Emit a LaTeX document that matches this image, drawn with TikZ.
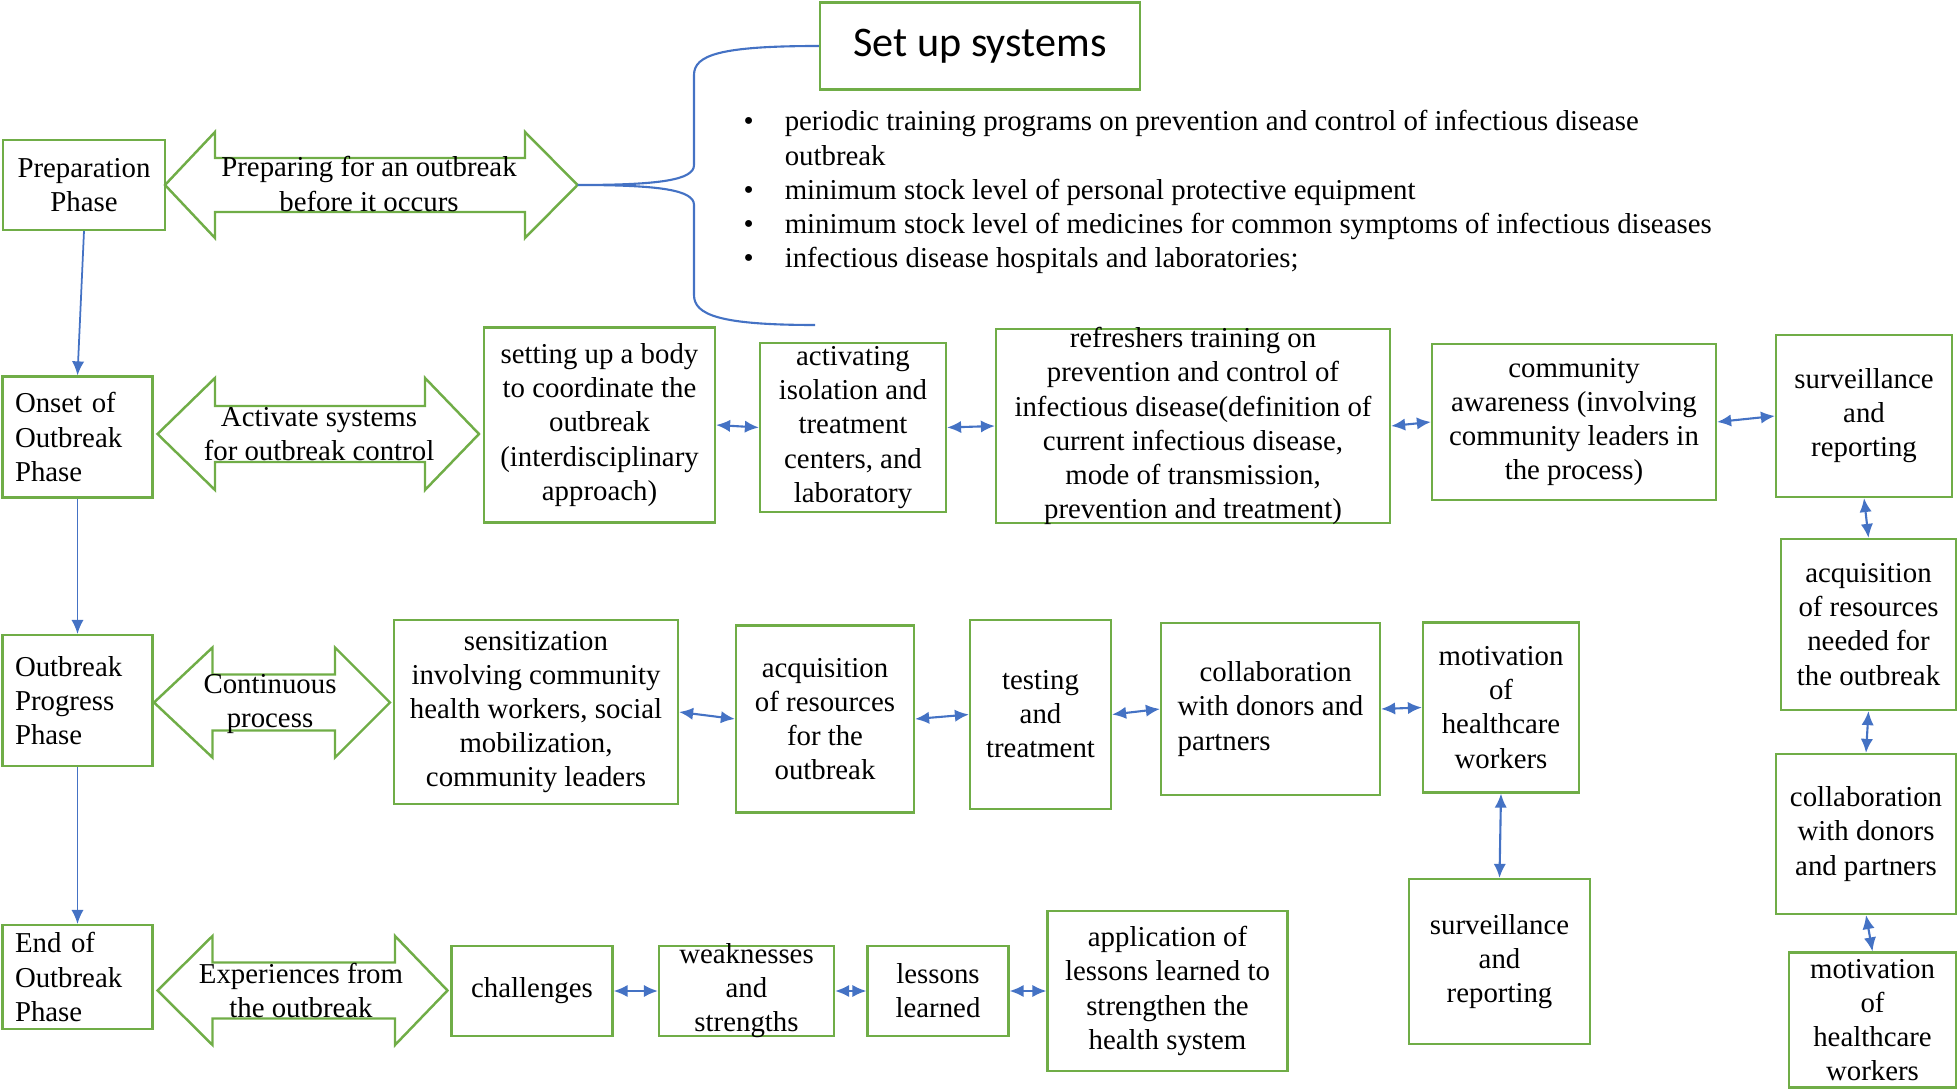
\documentclass[tikz,border=0pt]{standalone}
\usepackage{fontspec}
\setmainfont{Liberation Serif}
\newfontfamily\setupfont{Carlito}
\usetikzlibrary{arrows.meta}

\definecolor{boxgreen}{RGB}{112,173,71}
\definecolor{linkblue}{RGB}{68,114,196}

\tikzset{
  box/.style={draw=boxgreen, line width=0.6pt, align=center, inner sep=1pt},
  phase/.style={box, align=left, text width=1.25cm, inner xsep=0.125cm, minimum width=1.5cm},
  bigarrow/.style={draw=boxgreen, line width=0.7pt, line join=miter},
  arrowtext/.style={align=center, inner sep=0pt},
  flow/.style={draw=linkblue, line width=0.5pt, -{Latex[length=4pt,width=3.5pt]}},
  link/.style={draw=linkblue, line width=0.6pt, {Latex[length=4pt,width=3.5pt]}-{Latex[length=4pt,width=3.5pt]}},
}

\begin{document}
\begin{tikzpicture}[font=\fontsize{8.2}{9.7}\selectfont]
\useasboundingbox (0,0) rectangle (19.6,-10.92);

% phases down the left side
\node[box, minimum width=1.62cm, minimum height=0.9cm] (prep) at (0.84,-1.85) {Preparation\\Phase};
\node[phase, minimum height=1.21cm] (onset) at (0.775,-4.37) {Onset of\\Outbreak\\Phase};
\draw[flow] (prep.south) -- (onset.north);
\node[phase, minimum height=1.31cm] (progress) at (0.775,-7.005) {Outbreak\\Progress\\Phase};
\draw[flow] (onset.south) -- (progress.north);
\node[phase, minimum height=1.04cm] (endph) at (0.775,-9.77) {End of\\Outbreak\\Phase};
\draw[flow] (progress.south) -- (endph.north);

% big double arrows
\draw[bigarrow] (1.65,-1.85) -- (2.15,-1.32) -- (2.15,-1.58) -- (5.25,-1.58) -- (5.25,-1.32) -- (5.775,-1.85)
  -- (5.25,-2.38) -- (5.25,-2.12) -- (2.15,-2.12) -- (2.15,-2.38) -- cycle;
\node[arrowtext] (prepArrow) at (3.69,-1.84) {Preparing for an outbreak\\before it occurs};

\draw[bigarrow] (1.575,-4.34) -- (2.15,-3.78) -- (2.15,-4.06) -- (4.25,-4.06) -- (4.25,-3.78) -- (4.79,-4.34)
  -- (4.25,-4.90) -- (4.25,-4.62) -- (2.15,-4.62) -- (2.15,-4.90) -- cycle;
\node[arrowtext] (onsetArrow) at (3.19,-4.345) {Activate systems\\for outbreak control};

\draw[bigarrow] (1.54,-7.025) -- (2.125,-6.475) -- (2.125,-6.745) -- (3.35,-6.745) -- (3.35,-6.475) -- (3.90,-7.025)
  -- (3.35,-7.575) -- (3.35,-7.305) -- (2.125,-7.305) -- (2.125,-7.575) -- cycle;
\node[arrowtext] (progArrow) at (2.70,-7.04) {Continuous\\process};

\draw[bigarrow] (1.575,-9.905) -- (2.125,-9.36) -- (2.125,-9.625) -- (3.95,-9.625) -- (3.95,-9.36) -- (4.475,-9.905)
  -- (3.95,-10.45) -- (3.95,-10.185) -- (2.125,-10.185) -- (2.125,-10.45) -- cycle;
\node[arrowtext] (endArrow) at (3.01,-9.905) {Experiences from\\the outbreak};

% set up systems
\node[box, font=\setupfont\fontsize{12}{14}\selectfont, minimum width=3.2cm, minimum height=0.87cm] (setup) at (9.80,-0.46) {Set up systems};
\coordinate (braceTip) at (5.775,-1.85);
\coordinate (braceEnd) at (8.15,-3.25);
\draw[linkblue, line width=0.6pt] (setup.west) .. controls (7.2,-0.46) and (6.94,-0.55) .. (6.94,-0.75)
  -- (6.94,-1.65) .. controls (6.94,-1.80) and (6.6,-1.85) .. (braceTip)
  .. controls (6.6,-1.85) and (6.94,-1.90) .. (6.94,-2.05)
  -- (6.94,-2.95) .. controls (6.94,-3.15) and (7.2,-3.25) .. (braceEnd);
\node[anchor=base west, inner sep=0pt] (setupList) at (7.43,-1.31) {\begin{tabular}[t]{@{}l@{\hspace{0.31cm}}l@{}}
\textbullet & periodic training programs on prevention and control of infectious disease\\
 & outbreak\\
\textbullet & minimum stock level of personal protective equipment\\
\textbullet & minimum stock level of medicines for common symptoms of infectious diseases\\
\textbullet & infectious disease hospitals and laboratories;
\end{tabular}};

% onset row
\node[box, minimum width=2.31cm, minimum height=1.95cm] (body) at (5.995,-4.25) {setting up a body\\to coordinate the\\outbreak\\(interdisciplinary\\approach)};
\node[box, minimum width=1.86cm, minimum height=1.67cm] (isolation) at (8.53,-4.275) {activating\\isolation and\\treatment\\centers, and\\laboratory};
\draw[link] (body.east) -- (isolation.west);
\node[box, minimum width=3.94cm, minimum height=1.94cm] (refresh) at (11.93,-4.26) {};
\node[align=center] (refreshText) at (refresh) {refreshers training on\\prevention and control of\\infectious disease(definition of\\current infectious disease,\\mode of transmission,\\prevention and treatment)};
\draw[link] (isolation.east) -- (refresh.west);
\node[box, minimum width=2.84cm, minimum height=1.56cm] (awareness) at (15.74,-4.22) {community\\awareness (involving\\community leaders in\\the process)};
\draw[link] (refresh.east) -- (awareness.west);
\node[box, minimum width=1.76cm, minimum height=1.62cm] (survTop) at (18.64,-4.16) {surveillance\\and\\reporting};
\draw[link] (awareness.east) -- (survTop.west);
\node[box, minimum width=1.75cm, minimum height=1.71cm] (acqNeed) at (18.685,-6.245) {acquisition\\of resources\\needed for\\the outbreak};
\draw[link] (survTop.south) -- (acqNeed.north);
\node[box, minimum width=1.80cm, minimum height=1.60cm] (collabRight) at (18.66,-8.34) {collaboration\\with donors\\and partners};
\draw[link] (acqNeed.south) -- (collabRight.north);
\node[box, minimum width=1.67cm, minimum height=1.35cm] (motivRight) at (18.725,-10.20) {motivation\\of\\healthcare\\workers};
\draw[link] (collabRight.south) -- (motivRight.north);

% progress row
\node[box, minimum width=2.84cm, minimum height=1.84cm] (sensit) at (5.36,-7.12) {sensitization\\involving community\\health workers, social\\mobilization,\\community leaders};
\node[box, minimum width=1.78cm, minimum height=1.87cm] (acqRes) at (8.25,-7.19) {acquisition\\of resources\\for the\\outbreak};
\draw[link] (sensit.east) -- (acqRes.west);
\node[box, minimum width=1.41cm, minimum height=1.89cm] (testing) at (10.405,-7.145) {testing\\and\\treatment};
\draw[link] (acqRes.east) -- (testing.west);
\node[box, align=left, minimum width=2.19cm, minimum height=1.725cm] (collabMid) at (12.705,-7.09) {\hspace*{0.22cm}collaboration\\with donors and\\partners};
\draw[link] (testing.east) -- (collabMid.west);
\node[box, minimum width=1.56cm, minimum height=1.70cm] (motivMid) at (15.01,-7.075) {motivation\\of\\healthcare\\workers};
\draw[link] (collabMid.east) -- (motivMid.west);
\node[box, minimum width=1.81cm, minimum height=1.65cm] (survMid) at (14.995,-9.615) {surveillance\\and\\reporting};
\draw[link] (motivMid.south) -- (survMid.north);

% end row
\node[box, minimum width=1.61cm, minimum height=0.90cm] (challenges) at (5.32,-9.91) {challenges};
\node[box, minimum width=1.75cm, minimum height=0.90cm] (weakness) at (7.465,-9.91) {};
\node[align=center] (weaknessText) at (weakness) {weaknesses\\and\\strengths};
\draw[link] (challenges.east) -- (weakness.west);
\node[box, minimum width=1.41cm, minimum height=0.90cm] (lessons) at (9.38,-9.91) {lessons\\learned};
\draw[link] (weakness.east) -- (lessons.west);
\node[box, minimum width=2.40cm, minimum height=1.60cm] (application) at (11.675,-9.91) {application of\\lessons learned to\\strengthen the\\health system};
\draw[link] (lessons.east) -- (application.west);
\end{tikzpicture}
\end{document}
